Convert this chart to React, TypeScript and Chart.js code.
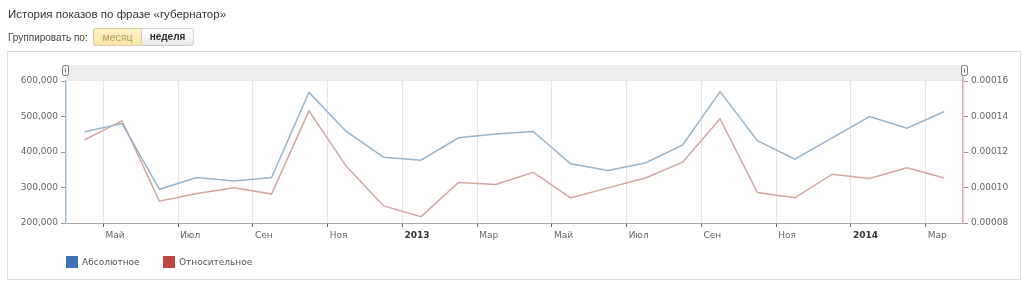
import React, { useEffect, useRef } from 'react';
import { Chart, registerables } from 'chart.js';

Chart.register(...registerables);

const months = [
  '2012-04', '2012-05', '2012-06', '2012-07', '2012-08', '2012-09',
  '2012-10', '2012-11', '2012-12', '2013-01', '2013-02', '2013-03',
  '2013-04', '2013-05', '2013-06', '2013-07', '2013-08', '2013-09',
  '2013-10', '2013-11', '2013-12', '2014-01', '2014-02', '2014-03',
];

const absoluteValues = [
  457000, 480000, 295000, 328000, 318000, 328000,
  568000, 458000, 385000, 377000, 440000, 451000,
  458000, 367000, 348000, 369000, 420000, 570000,
  432000, 380000, 440000, 500000, 467000, 514000,
];

const relativeValues = [
  0.0001269, 0.0001376, 0.0000923, 0.0000966, 0.0000998, 0.0000963,
  0.0001432, 0.0001119, 0.0000896, 0.0000836, 0.0001028, 0.0001017,
  0.0001086, 0.0000941, 0.0000998, 0.0001054, 0.0001143, 0.0001387,
  0.0000972, 0.0000942, 0.0001075, 0.0001051, 0.0001111, 0.0001054,
];

// labels at the start of every second month, beginning with months[1]
const tickLabels = ['Май', 'Июл', 'Сен', 'Ноя', '2013', 'Мар', 'Май', 'Июл', 'Сен', 'Ноя', '2014', 'Мар'];

const seriesNames = ['Абсолютное', 'Относительное'];

const FONT = "'DejaVu Sans', Verdana, sans-serif";

const decorPlugin = {
  id: 'decor',
  beforeDraw(chart: any) {
    const { ctx, chartArea } = chart;
    ctx.save();
    ctx.fillStyle = '#ececec';
    ctx.fillRect(chartArea.left, chartArea.top - 16, chartArea.right - chartArea.left, 16);
    ctx.restore();
  },
  afterDraw(chart: any) {
    const { ctx, chartArea } = chart;
    ctx.save();
    ctx.strokeStyle = '#c9a9a9';
    ctx.lineWidth = 1.5;
    ctx.beginPath();
    ctx.moveTo(chartArea.right, chartArea.top - 5);
    ctx.lineTo(chartArea.right, chartArea.top);
    ctx.stroke();
    const drawHandle = (cx: number) => {
      const x = Math.round(cx) - 3 + 0.5;
      const y = chartArea.top - 16 + 0.5;
      const w = 6;
      const h = 10;
      ctx.fillStyle = '#f6f6f6';
      ctx.strokeStyle = '#777';
      ctx.lineWidth = 1;
      ctx.beginPath();
      if (ctx.roundRect) ctx.roundRect(x, y, w, h, 2);
      else ctx.rect(x, y, w, h);
      ctx.fill();
      ctx.stroke();
      ctx.beginPath();
      ctx.moveTo(x + 3, y + 3);
      ctx.lineTo(x + 3, y + 7);
      ctx.stroke();
    };
    drawHandle(chartArea.left - 1);
    drawHandle(chartArea.right + 1);
    ctx.restore();
  },
};

function isYear(label: any) {
  return /^\d{4}$/.test(String(label ?? ''));
}

export default function App() {
  const canvasRef = useRef<HTMLCanvasElement | null>(null);

  useEffect(() => {
    const canvas = canvasRef.current;
    if (!canvas) return;
    const chart = new Chart(canvas, {
      type: 'line',
      data: {
        datasets: [
          {
            label: seriesNames[0],
            data: absoluteValues.map((v, i) => ({ x: i + 0.5, y: v })),
            borderColor: '#98b4cb',
            borderWidth: 1.5,
            pointRadius: 0,
            tension: 0,
            yAxisID: 'y',
          },
          {
            label: seriesNames[1],
            data: relativeValues.map((v, i) => ({ x: i + 0.5, y: v })),
            borderColor: '#d2a7a1',
            borderWidth: 1.5,
            pointRadius: 0,
            tension: 0,
            yAxisID: 'y1',
          },
        ],
      },
      options: {
        responsive: false,
        animation: false,
        events: [],
        layout: { padding: { top: 81, left: 0, right: 0, bottom: 0 } },
        plugins: {
          legend: { display: false },
          tooltip: { enabled: false },
          title: { display: false },
        },
        scales: {
          x: {
            type: 'linear',
            min: 0,
            max: months.length,
            afterBuildTicks: (scale: any) => {
              scale.ticks = tickLabels.map((_, k) => ({ value: 2 * k + 1 }));
            },
            afterFit: (scale: any) => {
              scale.height = 63;
            },
            ticks: {
              autoSkip: false,
              maxRotation: 0,
              padding: 3,
              align: 'start',
              labelOffset: 2,
              callback: (value: any) => {
                const k = (Number(value) - 1) / 2;
                return tickLabels[k] ?? '';
              },
              font: (ctx: any) => ({
                family: FONT,
                size: 9,
                weight: isYear(ctx.tick?.label) ? 'bold' : 'normal',
              }),
              color: (ctx: any) => (isYear(ctx.tick?.label) ? '#333' : '#666'),
            },
            grid: {
              color: '#e6e6e6',
              lineWidth: 1,
              tickLength: 4,
              tickColor: '#666',
            },
            border: { color: '#a8a8a8', width: 1 },
          },
          y: {
            type: 'linear',
            position: 'left',
            min: 200000,
            max: 600000,
            afterFit: (scale: any) => {
              scale.width = 66;
            },
            ticks: {
              stepSize: 100000,
              padding: 3,
              callback: (value: any) => Number(value).toLocaleString('en-US'),
              font: { family: FONT, size: 9 },
              color: '#666',
            },
            grid: {
              drawOnChartArea: false,
              tickLength: 5,
              tickColor: '#999',
            },
            border: { color: '#a9bccb', width: 1.5 },
          },
          y1: {
            type: 'linear',
            position: 'right',
            min: 0.00008,
            max: 0.00016,
            afterFit: (scale: any) => {
              scale.width = 61;
            },
            ticks: {
              stepSize: 0.00002,
              padding: 3,
              callback: (value: any) => Number(value).toFixed(5),
              font: { family: FONT, size: 9 },
              color: '#666',
            },
            grid: {
              drawOnChartArea: false,
              tickLength: 5,
              tickColor: '#999',
            },
            border: { color: '#c9a9a9', width: 1.5 },
          },
        },
      },
      plugins: [decorPlugin],
    } as any);
    return () => chart.destroy();
  }, []);

  const legendColors = ['#3f70b1', '#bb4541'];

  return (
    <div style={{ position: 'relative', width: 1024, height: 286, background: '#fff', overflow: 'hidden' }}>
      <style>{'body{margin:0;background:#fff;}'}</style>
      <div
        style={{
          position: 'absolute', left: 7, top: 51, width: 1014, height: 229,
          border: '1px solid #dedede', boxSizing: 'border-box',
        }}
      />
      <canvas
        ref={canvasRef}
        width={1024}
        height={286}
        style={{ position: 'absolute', left: 0, top: 0, width: 1024, height: 286 }}
      />
      <div
        style={{
          position: 'absolute', left: 8, top: 7, fontFamily: "'Liberation Sans', Arial, sans-serif",
          fontSize: 11.5, color: '#333', whiteSpace: 'nowrap', lineHeight: '14px',
        }}
      >
        История показов по фразе «губернатор»
      </div>
      <div
        style={{
          position: 'absolute', left: 8, top: 31, fontFamily: "'Liberation Sans', Arial, sans-serif",
          fontSize: 10, color: '#444', whiteSpace: 'nowrap', lineHeight: '13px',
        }}
      >
        Группировать по:
      </div>
      <div
        style={{
          position: 'absolute', left: 93, top: 28, width: 48, height: 18, boxSizing: 'border-box',
          border: '1px solid #d6cfa8', borderRight: 'none', borderRadius: '3px 0 0 3px',
          background: 'linear-gradient(#fdf3c8, #f7e6a6)', color: '#b39c5e',
          fontFamily: "'Liberation Sans', Arial, sans-serif", fontSize: 10.5, fontWeight: 'normal',
          textAlign: 'center', lineHeight: '16px',
        }}
      >
        месяц
      </div>
      <div
        style={{
          position: 'absolute', left: 141, top: 28, width: 53, height: 18, boxSizing: 'border-box',
          border: '1px solid #cfcfcf', borderRadius: '0 3px 3px 0',
          background: 'linear-gradient(#ffffff, #e9e9e9)', color: '#333',
          fontFamily: "'Liberation Sans', Arial, sans-serif", fontSize: 10, fontWeight: 'bold',
          textAlign: 'center', lineHeight: '16px',
        }}
      >
        неделя
      </div>
      {seriesNames.map((name, i) => (
        <div
          key={name}
          style={{
            position: 'absolute', left: i === 0 ? 66 : 163, top: 256, display: 'flex', alignItems: 'center',
            fontFamily: FONT, fontSize: 9, color: '#555', whiteSpace: 'nowrap',
          }}
        >
          <span style={{ display: 'inline-block', width: 12, height: 12, background: legendColors[i], marginRight: 4 }} />
          <span>{name}</span>
        </div>
      ))}
    </div>
  );
}
